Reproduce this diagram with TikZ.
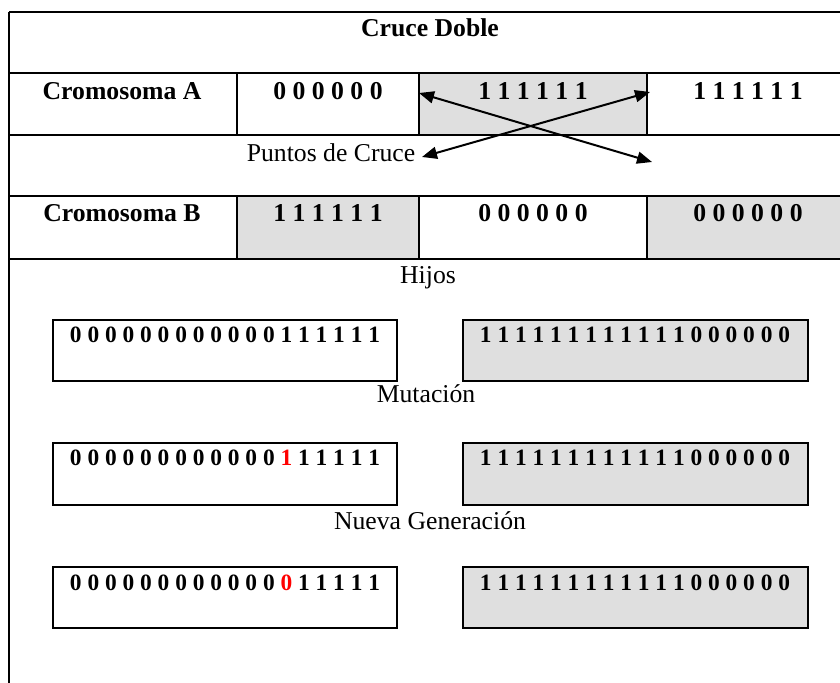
\documentclass[tikz,border=0pt]{standalone}
\usepackage{fontspec}
\setmainfont{Liberation Serif}
\usetikzlibrary{arrows.meta}
\definecolor{cellgray}{RGB}{223,223,223}
\begin{document}
\begin{tikzpicture}[x=0.5pt,y=-0.5pt,
  rule/.style={line width=1.4pt},
  gbox/.style={draw, line width=1.4pt, fill=cellgray},
  wbox/.style={draw, line width=1.4pt},
  big/.style={font=\fontsize{12.85}{15}\selectfont, anchor=base, inner sep=0pt},
  bigb/.style={font=\fontsize{12.85}{15}\selectfont\bfseries, anchor=base, inner sep=0pt},
  bits/.style={font=\fontsize{11.7}{14}\selectfont\bfseries, anchor=base, inner sep=0pt},
  xarrow/.style={{Triangle[length=7.5pt,width=6pt]}-{Triangle[length=7.5pt,width=6pt]}, line width=1pt}]
\useasboundingbox (0,0) rectangle (840,683);
% table fills
\fill[cellgray] (419,73) rectangle (647,135);
\fill[cellgray] (237,196) rectangle (419,259);
\fill[cellgray] (647,196) rectangle (850,259);
% table rules
\foreach \yy in {12,73,135,196,259} \draw[rule] (9,\yy) -- (850,\yy);
\draw[rule] (9,12) -- (9,690);
\foreach \xx in {237,419,647} {
  \draw[rule] (\xx,73) -- (\xx,135);
  \draw[rule] (\xx,196) -- (\xx,259);
}
% table texts
\node[bigb] (title) at (430,37) {Cruce Doble};
\node[bigb] (ca) at (122,100) {Cromosoma A};
\node[bigb] (ca1) at (328,100) {0 0 0 0 0 0};
\node[bigb] (ca2) at (533,100) {1 1 1 1 1 1};
\node[bigb] (ca3) at (748,100) {1 1 1 1 1 1};
\node[big] (pc) at (331,162) {Puntos de Cruce};
\node[bigb] (cb) at (122,222) {Cromosoma B};
\node[bigb] (cb1) at (328,222) {1 1 1 1 1 1};
\node[bigb] (cb2) at (533,222) {0 0 0 0 0 0};
\node[bigb] (cb3) at (748,222) {0 0 0 0 0 0};
% crossing arrows
\coordinate (p1) at (419,93);
\coordinate (p2) at (652,162);
\coordinate (q1) at (422,157);
\coordinate (q2) at (650,92);
\draw[xarrow] (p1) -- (p2);
\draw[xarrow] (q1) -- (q2);
% children
\node[big] (hijos) at (428,284) {Hijos};
\draw[wbox] (53,320) rectangle (397,381);
\draw[gbox] (463,320) rectangle (808,381);
\node[bits] (h1) at (225,343) {0 0 0 0 0 0 0 0 0 0 0 0 1 1 1 1 1 1};
\node[bits] (h2) at (635,343) {1 1 1 1 1 1 1 1 1 1 1 1 0 0 0 0 0 0};
\node[big] (mut) at (426,403) {Mutación};
\draw[wbox] (53,443) rectangle (397,505);
\draw[gbox] (463,443) rectangle (808,505);
\node[bits] (m1) at (225,466) {0 0 0 0 0 0 0 0 0 0 0 0 \textcolor{red}{1} 1 1 1 1 1};
\node[bits] (m2) at (635,466) {1 1 1 1 1 1 1 1 1 1 1 1 0 0 0 0 0 0};
\node[big] (ng) at (430,530) {Nueva Generación};
\draw[wbox] (53,567) rectangle (397,628);
\draw[gbox] (463,567) rectangle (808,628);
\node[bits] (n1) at (225,590) {0 0 0 0 0 0 0 0 0 0 0 0 \textcolor{red}{0} 1 1 1 1 1};
\node[bits] (n2) at (635,590) {1 1 1 1 1 1 1 1 1 1 1 1 0 0 0 0 0 0};
\end{tikzpicture}
\end{document}
